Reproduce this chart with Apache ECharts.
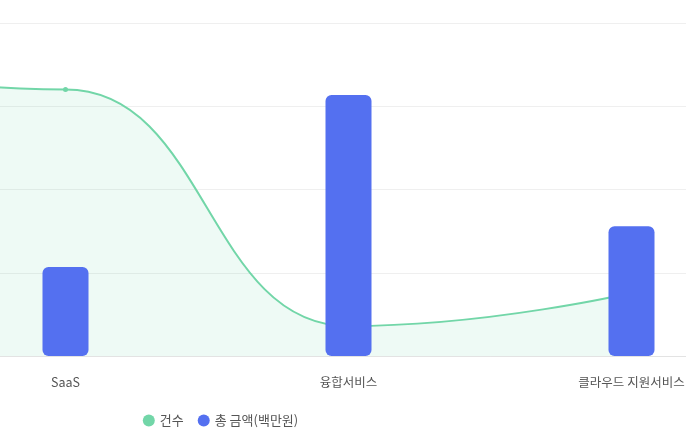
<!DOCTYPE html>
<html>
<head>
<meta charset="utf-8">
<script src="https://cdn.jsdelivr.net/npm/echarts@6/dist/echarts.min.js"></script>
<style>
html,body{margin:0;padding:0;width:686px;height:440px;overflow:hidden;background:#fff;}
#chart{position:absolute;left:-409.5px;top:0;width:1259px;height:440px;}
</style>
</head>
<body>
<div id="chart"></div>
<script>
const categories = ['PaaS', 'SaaS', '융합서비스', '클라우드 지원서비스'];
const countValues = [179, 160, 18, 38];
const amountValues = [2400, 1070, 3135, 1560];
const seriesNames = ['건수', '총 금액(백만원)'];

const font = '"Noto Sans CJK KR", "Noto Sans", sans-serif';
const chart = echarts.init(document.getElementById('chart'), null, {renderer: 'canvas'});
chart.setOption({
  animation: false,
  textStyle: {fontFamily: font},
  legend: {
    data: [
      {name: seriesNames[0], itemStyle: {color: '#72d6a8'}},
      {name: seriesNames[1], itemStyle: {color: '#5470f0'}}
    ],
    bottom: 8,
    left: 'center',
    icon: 'circle',
    itemWidth: 12,
    itemHeight: 12,
    itemGap: 14,
    textStyle: {fontFamily: font, fontSize: 13, color: '#555'}
  },
  grid: {left: 50, right: 77, top: 23, bottom: 84},
  xAxis: {
    type: 'category',
    data: categories,
    axisLine: {lineStyle: {color: '#e3e3e3'}},
    axisTick: {alignWithLabel: true, lineStyle: {color: '#e3e3e3'}},
    axisLabel: {margin: 20, fontSize: 12.5, color: '#555', fontFamily: font}
  },
  yAxis: [
    {type: 'value', min: 0, max: 200, interval: 50,
     splitLine: {lineStyle: {color: '#efefef'}},
     axisLabel: {color: '#666'}},
    {type: 'value', min: 0, max: 4000, interval: 1000,
     splitLine: {show: false},
     axisLabel: {color: '#666'}}
  ],
  series: [
    {
      name: seriesNames[0],
      type: 'line',
      yAxisIndex: 0,
      data: countValues,
      smooth: 0.5,
      smoothMonotone: 'x',
      symbol: 'circle',
      symbolSize: 5,
      z: 2,
      lineStyle: {color: '#72d6a8', width: 2},
      itemStyle: {color: '#72d6a8'},
      areaStyle: {color: 'rgba(114,214,168,0.17)'}
    },
    {
      name: seriesNames[1],
      type: 'bar',
      yAxisIndex: 1,
      data: amountValues,
      barWidth: 46,
      z: 3,
      itemStyle: {color: '#5470f0', borderRadius: 6}
    }
  ]
});
</script>
</body>
</html>
